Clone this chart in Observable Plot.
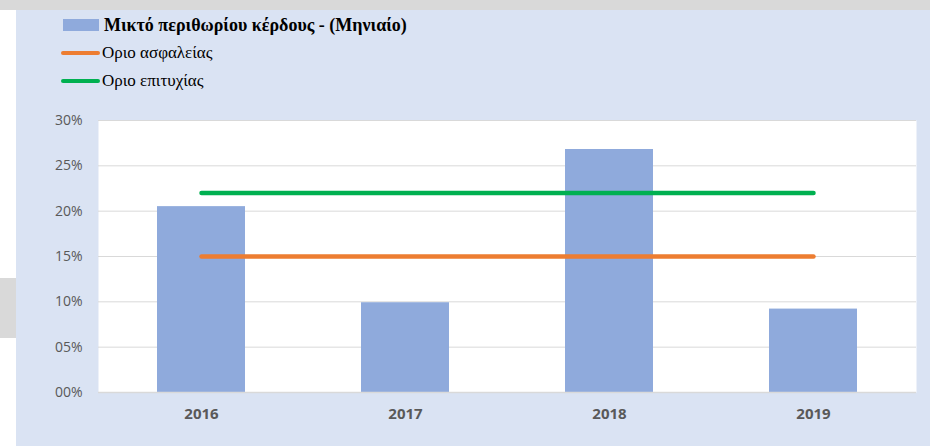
<!DOCTYPE html>
<html>
<head>
<meta charset="utf-8">
<script src="https://cdn.jsdelivr.net/npm/d3@7"></script>
<script src="https://cdn.jsdelivr.net/npm/@observablehq/plot@0.6"></script>
<style>
  html, body { margin: 0; padding: 0; background: #ffffff; width: 930px; height: 446px; overflow: hidden; }
  #topbar { position: absolute; left: 0; top: 0; width: 930px; height: 10px; background: #d9d9d9; }
  #sidebox { position: absolute; left: 0; top: 278px; width: 16px; height: 60px; background: #d9d9d9; }
  #panel { position: absolute; left: 16px; top: 10px; width: 914px; height: 436px; background: #dae3f3; }
  .sw { position: absolute; }
  .lt { position: absolute; line-height: 20px; white-space: nowrap; }
  #chart { position: absolute; left: 0; top: 100px; }
  #chart g[aria-label="y-axis tick label"] text { font-size: 14px; }
  #chart g[aria-label="x-axis tick label"] text { font-size: 15px; font-weight: bold; }
</style>
</head>
<body>
<div id="topbar"></div>
<div id="sidebox"></div>
<div id="panel"></div>
<div id="legend"></div>
<div id="chart"></div>
<script>
const years = ["2016", "2017", "2018", "2019"];
const grossMargin = [0.205, 0.099, 0.268, 0.092];
const safetyLimit = [0.15, 0.15, 0.15, 0.15];
const successLimit = [0.22, 0.22, 0.22, 0.22];
const yTicks = [0, 0.05, 0.10, 0.15, 0.20, 0.25, 0.30];
const seriesNames = ["Μικτό περιθωρίου κέρδους - (Μηνιαίο)", "Οριο ασφαλείας", "Οριο επιτυχίας"];
const colors = ["#8faadc", "#ed7d31", "#00b050"];

const bars = years.map((y, i) => ({year: y, value: grossMargin[i]}));
const safety = years.map((y, i) => ({year: y, value: safetyLimit[i]}));
const success = years.map((y, i) => ({year: y, value: successLimit[i]}));

// Legend
const legend = document.getElementById("legend");
const legItems = [
  {type: "box", top: 19, textTop: 15, bold: true, size: 18},
  {type: "line", top: 51, textTop: 43, bold: false, size: 17},
  {type: "line", top: 79, textTop: 71, bold: false, size: 17}
];
legItems.forEach((it, i) => {
  const sw = document.createElement("div");
  sw.className = "sw";
  if (it.type === "box") {
    Object.assign(sw.style, {left: "63px", top: it.top + "px", width: "36px", height: "12px", background: colors[i]});
  } else {
    Object.assign(sw.style, {left: "61px", top: it.top + "px", width: "39px", height: "4px", background: colors[i], borderRadius: "2px"});
  }
  legend.appendChild(sw);
  const t = document.createElement("div");
  t.className = "lt";
  t.textContent = seriesNames[i];
  Object.assign(t.style, {
    left: (it.bold ? 104 : 102) + "px",
    top: it.textTop + "px",
    fontSize: it.size + "px",
    fontFamily: "'Liberation Serif', 'DejaVu Serif', serif",
    fontWeight: it.bold ? "bold" : "normal",
    color: "#000"
  });
  legend.appendChild(t);
});

const fmt = d => String(Math.round(d * 100)).padStart(2, "0") + "%";

const chart = Plot.plot({
  width: 930,
  height: 346,
  marginLeft: 98,
  marginRight: 14,
  marginTop: 20,
  marginBottom: 54,
  style: {background: "transparent", fontFamily: "'Open Sans', 'Noto Sans', sans-serif", fontSize: "14px", overflow: "visible"},
  x: {domain: years, paddingInner: 0.57, paddingOuter: 0.285, label: null},
  y: {domain: [0, 0.30], ticks: yTicks, label: null},
  marks: [
    Plot.frame({fill: "white", stroke: null}),
    Plot.gridY(yTicks, {stroke: "#d9d9d9", strokeOpacity: 1, strokeWidth: 1}),
    Plot.barY(bars, {x: "year", y: "value", fill: colors[0]}),
    Plot.ruleY([0], {stroke: "#d9d9d9", strokeWidth: 1.5}),
    Plot.line(safety, {x: "year", y: "value", stroke: colors[1], strokeWidth: 4.5, strokeLinecap: "round"}),
    Plot.line(success, {x: "year", y: "value", stroke: colors[2], strokeWidth: 4.5, strokeLinecap: "round"}),
    Plot.axisY(yTicks, {tickSize: 0, tickPadding: 16, tickFormat: fmt, fontSize: 14, fill: "#595959"}),
    Plot.axisX(years, {tickSize: 0, tickPadding: 16, fontSize: 15, fontWeight: "bold", fill: "#595959"})
  ]
});
document.getElementById("chart").appendChild(chart);
</script>
</body>
</html>
